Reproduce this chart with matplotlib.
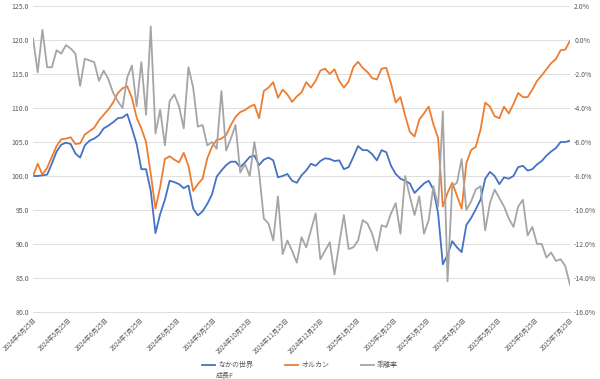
import pandas as pd
import matplotlib.pyplot as plt
import matplotlib.dates as mdates
from matplotlib.ticker import FuncFormatter, MultipleLocator

plt.rcParams['font.family'] = ['Noto Sans CJK JP', 'DejaVu Sans']

# sample dates (every 4 days, 2024-04-25 .. 2025-07-25)
dates = pd.date_range('2024-04-25', '2025-07-25', freq='4D')

# なかの世界成長F (index, start = 100)
nakano = [
    100.0, 100.0, 100.1, 100.2, 101.8, 103.6, 104.6, 104.9, 104.7, 103.3,
    102.7, 104.5, 105.2, 105.5, 106.0, 107.0, 107.4, 107.9, 108.5, 108.6,
    109.1, 107.0, 104.7, 101.0, 101.0, 97.8, 91.6, 94.4, 96.5, 99.3,
    99.1, 98.8, 98.2, 98.6, 95.2, 94.2, 94.8, 95.9, 97.3, 99.9,
    100.8, 101.6, 102.1, 102.1, 101.3, 102.0, 102.8, 103.0, 101.6, 102.4,
    102.7, 102.3, 99.8, 100.0, 100.3, 99.3, 99.0, 100.1, 100.8, 101.8,
    101.5, 102.2, 102.6, 102.5, 102.2, 102.3, 101.0, 101.3, 102.8, 104.4,
    103.8, 103.8, 103.2, 102.3, 103.8, 103.5, 101.5, 100.3, 99.6, 99.3,
    98.9, 97.5, 98.2, 98.9, 99.3, 98.0, 94.5, 87.0, 88.4, 90.4,
    89.5, 88.8, 92.8, 93.8, 95.1, 96.5, 99.6, 100.6, 100.0, 98.8,
    99.8, 99.6, 100.0, 101.3, 101.5, 100.8, 101.0, 101.7, 102.2, 103.0,
    103.6, 104.1, 105.0, 105.0, 105.2,
]

# オルカン (index, start = 100)
orukan = [
    100.0, 101.8, 100.2, 101.2, 102.8, 104.4, 105.4, 105.5, 105.7, 104.7,
    104.8, 106.1, 106.6, 107.1, 108.2, 109.0, 109.8, 110.8, 112.2, 112.9,
    113.2, 111.5, 108.6, 107.0, 105.0, 100.3, 95.2, 98.4, 102.5, 102.9,
    102.4, 102.0, 103.4, 101.5, 97.8, 98.8, 99.6, 102.6, 104.3, 105.3,
    105.5, 106.0, 107.5, 108.7, 109.4, 109.7, 110.2, 110.5, 108.5, 112.5,
    113.0, 113.8, 111.5, 112.7, 112.0, 110.9, 111.7, 112.3, 113.8, 113.0,
    114.0, 115.5, 115.8, 115.0, 115.7, 114.0, 113.0, 113.9, 116.0, 116.8,
    115.9, 115.3, 114.4, 114.2, 115.8, 115.9, 113.6, 110.8, 111.6, 108.9,
    106.5, 105.8, 108.3, 109.2, 110.2, 107.6, 105.6, 95.5, 97.5, 99.0,
    97.1, 95.2, 101.9, 103.8, 104.3, 106.8, 110.8, 110.2, 108.8, 108.5,
    110.2, 109.2, 110.6, 112.2, 111.6, 111.6, 112.7, 114.0, 114.8, 115.7,
    116.6, 117.2, 118.5, 118.6, 119.9,
]

# 乖離率 (%)
kairi = [
    0.1, -1.9, 0.6, -1.6, -1.6, -0.6, -0.8, -0.3, -0.5, -0.8,
    -2.7, -1.1, -1.2, -1.3, -2.4, -1.8, -2.3, -3.1, -3.6, -4.0,
    -2.2, -1.5, -3.9, -1.3, -4.4, 0.8, -5.5, -4.1, -6.2, -3.6,
    -3.2, -3.9, -5.2, -1.6, -2.8, -5.1, -5.0, -6.2, -6.0, -6.4,
    -3.0, -6.5, -5.8, -5.0, -7.8, -7.3, -8.0, -6.0, -7.8, -10.5,
    -10.8, -11.8, -9.2, -12.6, -11.8, -12.4, -13.1, -11.6, -12.2, -11.2,
    -10.2, -12.9, -12.4, -11.9, -13.8, -12.0, -10.3, -12.3, -12.2, -11.8,
    -10.6, -10.8, -11.4, -12.4, -10.9, -11.0, -10.2, -9.6, -11.4, -8.0,
    -9.2, -10.3, -9.2, -11.4, -10.6, -8.6, -9.8, -4.2, -14.2, -8.6,
    -8.4, -7.0, -10.0, -9.5, -8.8, -8.6, -11.2, -9.6, -8.8, -9.3,
    -9.8, -10.5, -11.0, -9.8, -9.4, -11.5, -11.0, -12.0, -12.0, -12.8,
    -12.5, -13.0, -12.9, -13.3, -14.4,
]

label_color = '#595959'
grid_color = '#d9d9d9'

fig = plt.figure(figsize=(6.0, 3.79), dpi=100)
ax1 = fig.add_axes([0.055, 0.177, 0.895, 0.807])
ax2 = ax1.twinx()

l1, = ax1.plot(dates, nakano, color='#4472C4', lw=1.3, label='なかの世界')
l2, = ax1.plot(dates, orukan, color='#ED7D31', lw=1.3, label='オルカン')
l3, = ax2.plot(dates, kairi, color='#A5A5A5', lw=1.3, label='乖離率')

ax1.set_ylim(80, 125)
ax1.yaxis.set_major_locator(MultipleLocator(5))
ax1.yaxis.set_major_formatter(FuncFormatter(lambda v, p: f'{v:.1f}'))
ax2.set_ylim(-16, 2)
ax2.yaxis.set_major_locator(MultipleLocator(2))
ax2.yaxis.set_major_formatter(FuncFormatter(lambda v, p: f'{v:.1f}%'))

ax1.set_xlim(dates[0], dates[-1])
ax1.xaxis.set_major_locator(mdates.MonthLocator(bymonthday=25))
ax1.xaxis.set_major_formatter(FuncFormatter(
    lambda v, p: (lambda d: f'{d.year}年{d.month}月{d.day}日')(mdates.num2date(v))))

ax1.grid(axis='y', color=grid_color, lw=0.6)
ax1.set_axisbelow(True)
for ax in (ax1, ax2):
    for s in ax.spines.values():
        s.set_visible(False)
    ax.tick_params(length=0, labelsize=5, labelcolor=label_color, pad=3)
ax1.spines['bottom'].set_visible(True)
ax1.spines['bottom'].set_color(grid_color)
ax1.spines['bottom'].set_linewidth(0.6)

for t in ax1.get_xticklabels():
    t.set_rotation(45)
    t.set_ha('right')
    t.set_rotation_mode('anchor')
    t.set_fontsize(4.6)

leg = fig.legend(handles=[l1, l2, l3], loc='center', bbox_to_anchor=(0.5, 0.037),
                 ncol=3, frameon=False, fontsize=5, labelcolor=label_color,
                 handlelength=1.9, columnspacing=4.6, handletextpad=0.4)

# second line of the first legend label
fig.canvas.draw()
bb = leg.get_texts()[0].get_window_extent().transformed(fig.transFigure.inverted())
fig.text(bb.x0 - 0.004, bb.y0 - 0.006, '成長F', fontsize=5, color=label_color,
         ha='left', va='top')

fig.savefig('out.png', dpi=100)
